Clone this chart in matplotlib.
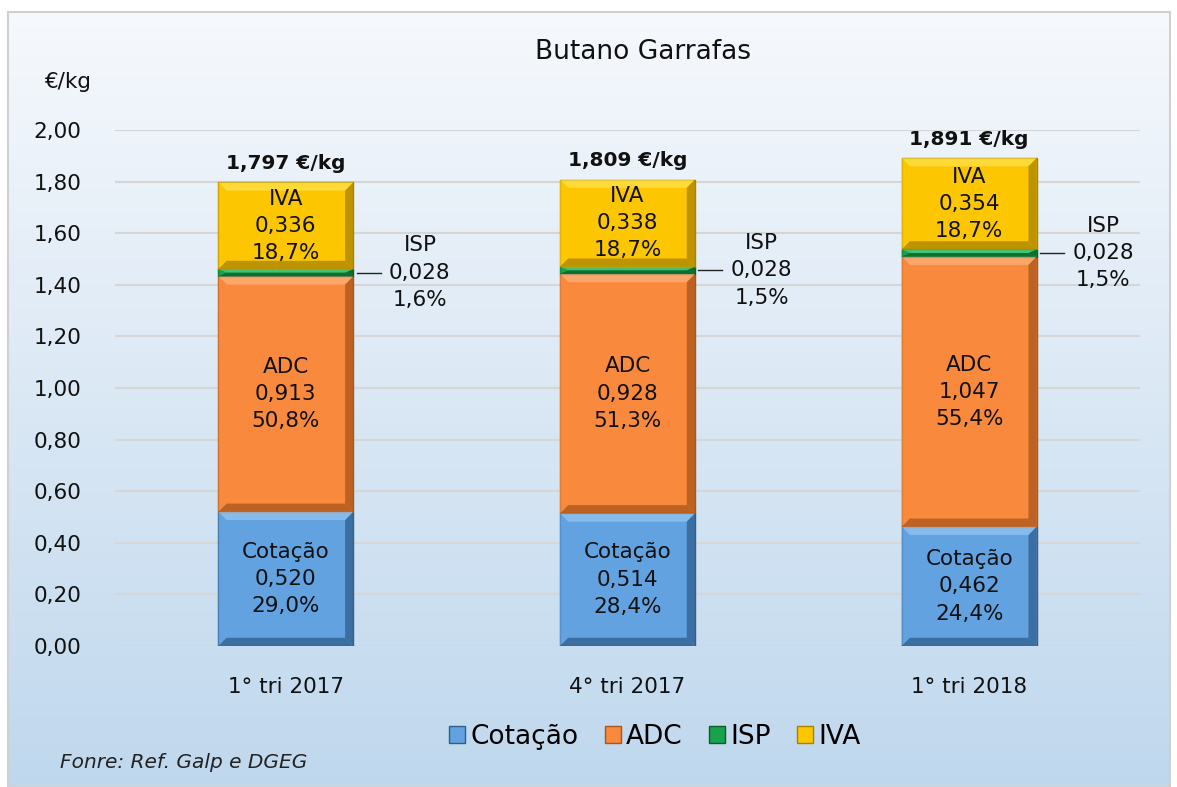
import matplotlib.pyplot as plt
import numpy as np
from matplotlib.patches import Polygon

plt.rcParams['font.family'] = ['DejaVu Sans']

categories = ["1° tri 2017", "4° tri 2017", "1° tri 2018"]
series = ["Cotação", "ADC", "ISP", "IVA"]
cotacao = [0.520, 0.514, 0.462]
adc = [0.913, 0.928, 1.047]
isp = [0.028, 0.028, 0.028]
iva = [0.336, 0.338, 0.354]
totals = [1.797, 1.809, 1.891]
pct_cotacao = ["29,0%", "28,4%", "24,4%"]
pct_adc = ["50,8%", "51,3%", "55,4%"]
pct_isp = ["1,6%", "1,5%", "1,5%"]
pct_iva = ["18,7%", "18,7%", "18,7%"]
yticks = np.arange(0, 2.01, 0.2)

colors = ["#62a2e0", "#f98a3d", "#17a24b", "#fcc600"]
light = ["#93c6f2", "#fdb07a", "#4fd07c", "#ffe14d"]
dark = ["#2f5f8c", "#a8561c", "#0b5e2a", "#a88300"]


def fmt(v, nd=3):
    return f"{v:.{nd}f}".replace(".", ",")


def bevel(ax, xc, w, y0, h, face, hi, lo):
    # simple bevel: light top, dark right/bottom
    bx = 0.024
    by = min(0.032, h / 2)
    x0, x1, y1 = xc - w / 2, xc + w / 2, y0 + h
    ix0, ix1, iy0, iy1 = x0 + bx, x1 - bx, y0 + by, y1 - by
    parts = [
        ([(x0, y1), (x1, y1), (ix1, iy1), (ix0, iy1)], hi),
        ([(x0, y0), (x0, y1), (ix0, iy1), (ix0, iy0)], face),
        ([(x1, y0), (x1, y1), (ix1, iy1), (ix1, iy0)], lo),
        ([(x0, y0), (x1, y0), (ix1, iy0), (ix0, iy0)], lo),
    ]
    for pts, c in parts:
        ax.add_patch(Polygon(pts, closed=True, fc=c, ec="none", alpha=0.75, zorder=4))


fig = plt.figure(figsize=(11.77, 7.87), dpi=100)

# gradient background of the chart area
bg = fig.add_axes([8 / 1177, 0, 1162 / 1177, 775 / 787], zorder=-5)
top = np.array([0.965, 0.975, 0.99])
bot = np.array([0.75, 0.845, 0.93])
t = np.linspace(0, 1, 256)[:, None, None]
grad = top * (1 - t) + bot * t
bg.imshow(grad, aspect="auto", extent=[0, 1, 0, 1])
bg.set_axis_off()
bg.add_patch(plt.Rectangle((0, 0), 1, 1, transform=bg.transAxes, fill=False,
                           ec="#d0d0d0", lw=1.5, clip_on=False))

ax = fig.add_axes([115 / 1177, 1 - 646 / 787, 1025 / 1177, 516 / 787])
ax.set_facecolor("none")
x = np.arange(len(categories))
w = 0.395
bottom = np.zeros(len(categories))
stack = [cotacao, adc, isp, iva]
handles = []
for k, (vals, name) in enumerate(zip(stack, series)):
    b = ax.bar(x, vals, w, bottom=bottom, color=colors[k], edgecolor=dark[k], lw=1.0,
               label=name, zorder=3)
    handles.append(b)
    for i in range(len(categories)):
        bevel(ax, x[i], w, bottom[i], vals[i], colors[k], light[k], dark[k])
    bottom += np.array(vals)

fs = 15.5
txt = "#111111"
ls = 1.45
for i in range(len(categories)):
    ax.text(x[i], cotacao[i] / 2, f"Cotação\n{fmt(cotacao[i])}\n{pct_cotacao[i]}",
            ha="center", va="center", fontsize=fs, color=txt, linespacing=ls, zorder=5)
    b0 = cotacao[i]
    ax.text(x[i], b0 + adc[i] / 2, f"ADC\n{fmt(adc[i])}\n{pct_adc[i]}",
            ha="center", va="center", fontsize=fs, color=txt, linespacing=ls, zorder=5)
    b1 = b0 + adc[i] + isp[i]
    ax.text(x[i], b1 + iva[i] / 2, f"IVA\n{fmt(iva[i])}\n{pct_iva[i]}",
            ha="center", va="center", fontsize=fs, color=txt, linespacing=ls, zorder=5)
    yi = b0 + adc[i] + isp[i] / 2
    ax.plot([x[i] + w / 2 + 0.01, x[i] + w / 2 + 0.08], [yi, yi], color="#222222",
            lw=1, zorder=5)
    ax.text(x[i] + w / 2 + 0.195, yi, f"ISP\n{fmt(isp[i])}\n{pct_isp[i]}",
            ha="center", va="center", fontsize=fs, color=txt, linespacing=ls, zorder=5)
    ax.text(x[i], totals[i] + 0.035, f"{fmt(totals[i])} €/kg", ha="center", va="bottom",
            fontsize=14.5, fontweight="bold", color="#111111", zorder=5)

ax.set_xlim(-0.5, len(categories) - 0.5)
ax.set_ylim(0, 2.0)
ax.set_yticks(yticks)
ax.set_yticklabels([fmt(v, 2) for v in yticks], fontsize=15.5, color=txt)
ax.set_xticks(x)
ax.set_xticklabels(categories, fontsize=15.5, color=txt)
ax.tick_params(axis="x", length=0, pad=22)
ax.tick_params(axis="y", length=0, pad=24)
ax.grid(axis="y", color="#d6d6d6", lw=1.5, zorder=0)
ax.set_axisbelow(True)
for s in ax.spines.values():
    s.set_visible(False)

fig.text(643 / 1177, 1 - 52 / 787, "Butano Garrafas", ha="center", va="center",
         fontsize=19, color=txt)
fig.text(68 / 1177, 1 - 82 / 787, "€/kg", ha="center", va="center", fontsize=15.5, color=txt)
fig.text(60 / 1177, 1 - 762 / 787, "Fonre: Ref. Galp e DGEG", ha="left", va="center",
         fontsize=14.5, style="italic", color="#222222")

fig.legend(handles, series, loc="center", bbox_to_anchor=(655 / 1177, 1 - 737 / 787),
           ncol=4, frameon=False, fontsize=19, handlelength=0.6, handleheight=0.6,
           handletextpad=0.2, columnspacing=1.0)

fig.savefig("out.png", dpi=100)
